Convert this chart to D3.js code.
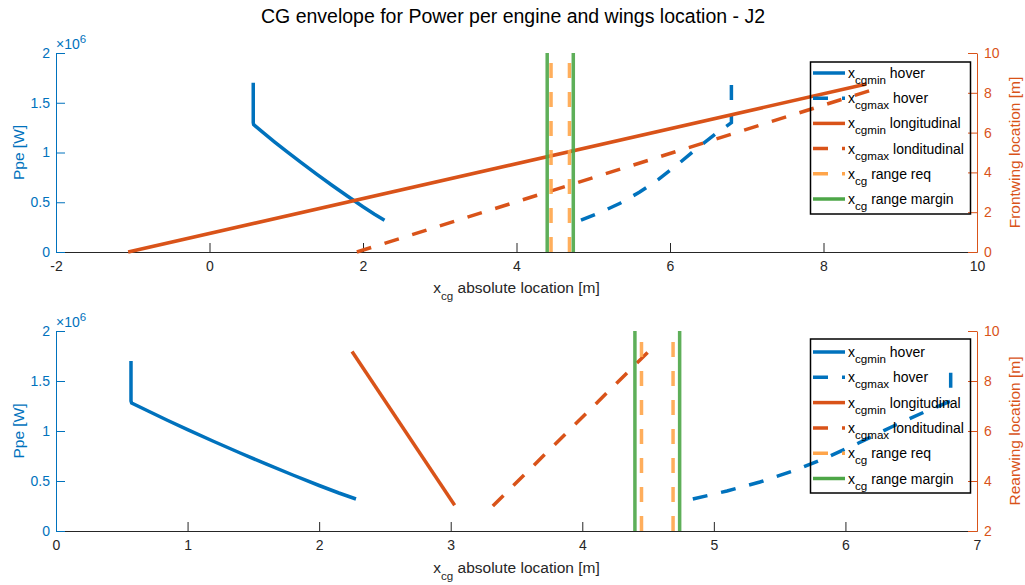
<!DOCTYPE html>
<html>
<head>
<meta charset="utf-8">
<script src="https://cdn.jsdelivr.net/npm/d3@7"></script>
<style>
  body { margin: 0; background: #fff; }
  text { font-family: "Liberation Sans", Arial, Helvetica, sans-serif; white-space: pre; }
</style>
</head>
<body>
<svg id="chart" width="1025" height="585"></svg>
<script>
// Hover envelope (shared by both panels): x_cg [m] vs power per engine [W]
const hoverMinX = [0.57, 0.57, 0.575, 0.7, 0.85, 1.0, 1.2, 1.4, 1.6, 1.8, 2.0, 2.15, 2.28];
const hoverMinP = [1.70e6, 1.30e6, 1.28e6, 1.20e6, 1.105e6, 1.013e6, 0.895e6, 0.78e6, 0.668e6, 0.56e6, 0.455e6, 0.38e6, 0.32e6];
const hoverMaxX = [4.84, 5.1, 5.35, 5.6, 5.85, 6.1, 6.35, 6.6, 6.8, 6.8];
const hoverMaxP = [0.32e6, 0.40e6, 0.49e6, 0.60e6, 0.73e6, 0.88e6, 1.04e6, 1.19e6, 1.30e6, 1.70e6];

// Longitudinal limits vs front wing location [m]
const frontMinX = [-1.06, 8.56];
const frontMinLoc = [0, 8.44];
const frontMaxX = [1.92, 8.76];
const frontMaxLoc = [0, 8.3];

// Longitudinal limits vs rear wing location [m]
const rearMinX = [2.25, 3.03];
const rearMinLoc = [9.18, 3.03];
const rearMaxX = [3.32, 4.50];
const rearMaxLoc = [3.0, 9.16];

// Required x_cg range and range with margin [m]
const rangeReq = [4.45, 4.69];
const rangeMargin = [4.40, 4.74];

// Tick values
const powerTicks = [0, 0.5e6, 1e6, 1.5e6, 2e6];
const frontXTicks = [-2, 0, 2, 4, 6, 8, 10];
const rearXTicks = [0, 1, 2, 3, 4, 5, 6, 7];
const frontLocTicks = [0, 2, 4, 6, 8, 10];
const rearLocTicks = [2, 4, 6, 8, 10];

const legendLabels = [
  { sub: "cgmin", rest: " hover" },
  { sub: "cgmax", rest: " hover" },
  { sub: "cgmin", rest: " longitudinal" },
  { sub: "cgmax", rest: " londitudinal" },
  { sub: "cg", rest: " range req" },
  { sub: "cg", rest: " range margin" }
];

const COL = { blue: "#0072BD", orange: "#D95319", req: "#FFA54A", margin: "#4DA647", axis: "#262626" };
const LW = 3.5, DASH = "15,14";
const FS_TICK = 14, FS_LABEL = 15.5, FS_SUB = 11.6;

const svg = d3.select("#chart");
svg.append("rect").attr("width", 1025).attr("height", 585).attr("fill", "#fff");

svg.append("text")
  .attr("x", 513).attr("y", 23)
  .attr("text-anchor", "middle")
  .attr("font-size", 19.5)
  .attr("fill", "#000")
  .text("CG envelope for Power per engine and wings location - J2");

const left = 56, right = 977;

const panels = [
  {
    top: 53, bottom: 252, xDomain: [-2, 10], xTicks: frontXTicks,
    rDomain: [0, 10], rTicks: frontLocTicks, rLabel: "Frontwing location [m]",
    minX: frontMinX, minLoc: frontMinLoc, maxX: frontMaxX, maxLoc: frontMaxLoc,
    xLabelY: 293, legend: [810.5, 62, 970.5, 214], legendRow0: 73, legendStep: 25.2
  },
  {
    top: 331, bottom: 531, xDomain: [0, 7], xTicks: rearXTicks,
    rDomain: [2, 10], rTicks: rearLocTicks, rLabel: "Rearwing location [m]",
    minX: rearMinX, minLoc: rearMinLoc, maxX: rearMaxX, maxLoc: rearMaxLoc,
    xLabelY: 573, legend: [810.5, 339, 970.5, 493], legendRow0: 352, legendStep: 25.3
  }
];

function styleAxis(g, color) {
  g.selectAll(".domain").attr("stroke", color).attr("stroke-width", 1);
  g.selectAll(".tick line").attr("stroke", color).attr("stroke-width", 1);
  g.selectAll(".tick text").attr("fill", color).attr("font-size", FS_TICK)
    .attr("font-family", "Liberation Sans, Arial, sans-serif");
}

panels.forEach(p => {
  const x = d3.scaleLinear().domain(p.xDomain).range([left, right]);
  const yL = d3.scaleLinear().domain([0, 2e6]).range([p.bottom, p.top]);
  const yR = d3.scaleLinear().domain(p.rDomain).range([p.bottom, p.top]);
  const g = svg.append("g");

  // axes
  const gx = g.append("g").attr("transform", `translate(0,${p.bottom})`)
    .call(d3.axisBottom(x).tickValues(p.xTicks).tickSizeInner(-9).tickSizeOuter(0)
      .tickPadding(9).tickFormat(d => String(d)));
  styleAxis(gx, COL.axis);

  const gl = g.append("g").attr("transform", `translate(${left},0)`)
    .call(d3.axisLeft(yL).tickValues(powerTicks).tickSizeInner(-9).tickSizeOuter(0)
      .tickPadding(6).tickFormat(d => String(d / 1e6)));
  styleAxis(gl, COL.blue);

  const gr = g.append("g").attr("transform", `translate(${right},0)`)
    .call(d3.axisRight(yR).tickValues(p.rTicks).tickSizeInner(-9).tickSizeOuter(0)
      .tickPadding(7).tickFormat(d => String(d)));
  styleAxis(gr, COL.orange);

  // exponent marker of the power axis
  const ex = g.append("text").attr("x", left).attr("y", p.top - 4)
    .attr("font-size", FS_TICK).attr("fill", COL.blue);
  ex.append("tspan").text("\u00d710");
  ex.append("tspan").attr("dy", -6).attr("font-size", 11.5).text("6");

  // axis titles
  g.append("text")
    .attr("transform", `translate(24,${(p.top + p.bottom) / 2}) rotate(-90)`)
    .attr("text-anchor", "middle").attr("font-size", FS_LABEL).attr("fill", COL.blue)
    .text("Ppe [W]");
  g.append("text")
    .attr("transform", `translate(1020,${(p.top + p.bottom) / 2}) rotate(-90)`)
    .attr("text-anchor", "middle").attr("font-size", FS_LABEL).attr("fill", COL.orange)
    .text(p.rLabel);
  const xl = g.append("text").attr("x", (left + right) / 2).attr("y", p.xLabelY)
    .attr("text-anchor", "middle").attr("font-size", FS_LABEL).attr("fill", COL.axis);
  xl.append("tspan").text("x");
  xl.append("tspan").attr("dy", 7).attr("font-size", FS_SUB).text("cg");
  xl.append("tspan").attr("dy", -7).text(" absolute location [m]");

  // data lines
  const lineL = d3.line().x(d => x(d[0])).y(d => yL(d[1]));
  const lineR = d3.line().x(d => x(d[0])).y(d => yR(d[1]));
  const plot = g.append("g").attr("fill", "none").attr("stroke-width", LW);

  plot.append("path").attr("d", lineL(d3.zip(hoverMinX, hoverMinP)))
    .attr("stroke", COL.blue);
  plot.append("path").attr("d", lineL(d3.zip(hoverMaxX, hoverMaxP)))
    .attr("stroke", COL.blue).attr("stroke-dasharray", DASH);
  plot.append("path").attr("d", lineR(d3.zip(p.minX, p.minLoc)))
    .attr("stroke", COL.orange);
  plot.append("path").attr("d", lineR(d3.zip(p.maxX, p.maxLoc)))
    .attr("stroke", COL.orange).attr("stroke-dasharray", DASH);

  rangeReq.forEach(v => {
    plot.append("path").attr("d", lineL([[v, 0], [v, 2e6]]))
      .attr("stroke", COL.req).attr("stroke-dasharray", DASH).attr("opacity", 0.9);
  });
  rangeMargin.forEach(v => {
    plot.append("path").attr("d", lineL([[v, 0], [v, 2e6]]))
      .attr("stroke", COL.margin).attr("opacity", 0.9);
  });

  // legend (transparent background, black frame)
  const [lx0, ly0, lx1, ly1] = p.legend;
  const lg = g.append("g");
  lg.append("rect").attr("x", lx0).attr("y", ly0).attr("width", lx1 - lx0).attr("height", ly1 - ly0)
    .attr("fill", "none").attr("stroke", "#000").attr("stroke-width", 1.5);
  const styles = [
    { c: COL.blue, d: null }, { c: COL.blue, d: DASH },
    { c: COL.orange, d: null }, { c: COL.orange, d: DASH },
    { c: COL.req, d: DASH }, { c: COL.margin, d: null }
  ];
  legendLabels.forEach((lab, i) => {
    const yy = p.legendRow0 + i * p.legendStep;
    lg.append("line").attr("x1", 813).attr("x2", 845).attr("y1", yy).attr("y2", yy)
      .attr("stroke", styles[i].c).attr("stroke-width", LW)
      .attr("stroke-dasharray", styles[i].d);
    const t = lg.append("text").attr("x", 848).attr("y", yy + 5)
      .attr("font-size", FS_TICK).attr("fill", "#000");
    t.append("tspan").text("x");
    t.append("tspan").attr("dy", 6).attr("font-size", FS_SUB).text(lab.sub);
    t.append("tspan").attr("dy", -6).text(lab.rest);
  });
});
</script>
</body>
</html>
